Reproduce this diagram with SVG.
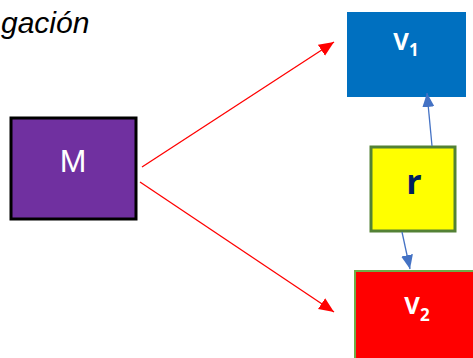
<svg xmlns="http://www.w3.org/2000/svg" width="473" height="358" viewBox="0 0 473 358">
  <style>
    .box-label { font-family: "Open Sans", "Liberation Sans", sans-serif; font-weight: bold; fill: #ffffff; text-anchor: middle; }
    .red-link { stroke: #ff0000; stroke-width: 1.3; fill: none; }
    .blue-link { stroke: #4472c4; stroke-width: 1.3; fill: none; }
  </style>
  <defs>
    <marker id="head-red" markerUnits="userSpaceOnUse" markerWidth="16" markerHeight="14" refX="15" refY="6.5" orient="auto">
      <path d="M0,0 L15,6.5 L0,13 z" fill="#ff0000"/>
    </marker>
    <marker id="head-blue" markerUnits="userSpaceOnUse" markerWidth="16" markerHeight="14" refX="14" refY="6" orient="auto">
      <path d="M0,0 L14,6 L0,12 z" fill="#4472c4"/>
    </marker>
  </defs>

  <!-- heading -->
  <text x="1" y="33" font-family="Liberation Sans, Arial, sans-serif" font-style="italic" font-size="30" fill="#000000">gación</text>

  <g id="node-M">
    <rect x="11" y="118" width="125" height="101" fill="#7030a0" stroke="#000000" stroke-width="3"/>
    <text x="73" y="172" font-family="Liberation Sans, Arial, sans-serif" font-size="32" fill="#ffffff" text-anchor="middle">M</text>
  </g>

  <g id="node-V1">
    <rect x="347" y="12" width="119" height="85" fill="#0070c0"/>
    <text x="406" y="50" class="box-label" font-size="24">V<tspan font-size="17" dy="6">1</tspan></text>
  </g>

  <g id="node-r">
    <rect x="371" y="147" width="84" height="84" fill="#ffff00" stroke="#538135" stroke-width="3"/>
    <text x="414" y="194" font-family="Open Sans, Liberation Sans, sans-serif" font-weight="bold" font-size="34" fill="#002060" text-anchor="middle">r</text>
  </g>

  <g id="node-V2">
    <rect x="355" y="271" width="125" height="95" fill="#ff0000" stroke="#70ad47" stroke-width="2"/>
    <text x="417" y="314" class="box-label" font-size="24">V<tspan font-size="17" dy="7">2</tspan></text>
  </g>

  <g id="connectors">
    <line class="red-link" x1="142" y1="167" x2="334" y2="42" marker-end="url(#head-red)"/>
    <line class="red-link" x1="140" y1="182" x2="334" y2="312" marker-end="url(#head-red)"/>
    <line class="blue-link" x1="432" y1="146" x2="427" y2="93" marker-end="url(#head-blue)"/>
    <line class="blue-link" x1="402" y1="232" x2="410" y2="269" marker-end="url(#head-blue)"/>
  </g>
</svg>
